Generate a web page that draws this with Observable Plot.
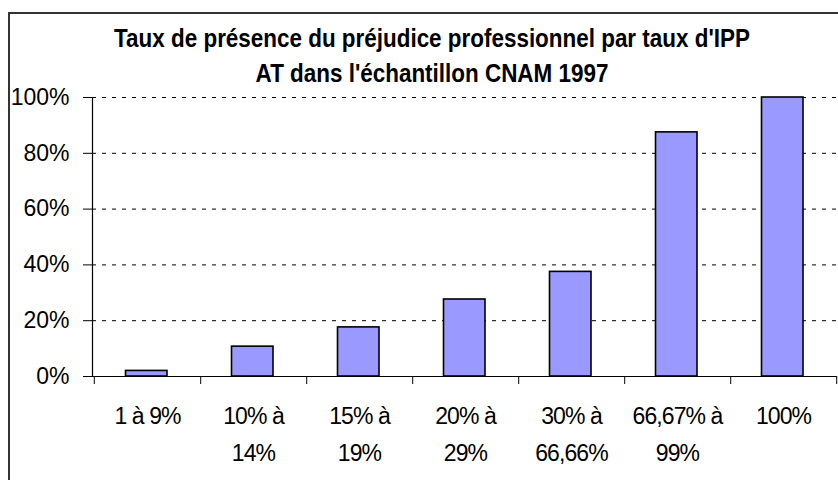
<!DOCTYPE html>
<html><head><meta charset="utf-8">
<script src="https://cdn.jsdelivr.net/npm/d3@7"></script>
<script src="https://cdn.jsdelivr.net/npm/@observablehq/plot@0.6"></script>
<style>
body{margin:0;background:#fff;overflow:hidden}
#wrap{position:relative;width:838px;height:480px;overflow:hidden;font-family:"Liberation Sans",Arial,sans-serif}
#frame{position:absolute;left:8px;top:12px;width:900px;height:600px;border:2px solid #333;box-sizing:border-box}
#title{position:absolute;left:0;width:864px;top:21px;text-align:center;font-weight:bold;font-size:26px;line-height:35px;color:#000;transform:scaleX(0.863);transform-origin:50% 50%;white-space:nowrap}
#chart{position:absolute;left:0;top:0}
.xlab text{letter-spacing:-0.9px}
</style></head>
<body><div id="wrap"><div id="frame"></div>
<div id="title">Taux de présence du préjudice professionnel par taux d'IPP<br>AT dans l'échantillon CNAM 1997</div>
<div id="chart"></div></div>
<script>
const categories = ["1 à 9%", "10% à\n14%", "15% à\n19%", "20% à\n29%", "30% à\n66,66%", "66,67% à\n99%", "100%"];
const values = [0.02, 0.107, 0.176, 0.276, 0.375, 0.875, 1.0];
const yTicks = [0, 0.2, 0.4, 0.6, 0.8, 1.0];

const data = categories.map((c, i) => ({cat: c, value: values[i]}));
const W = 838, H = 480, mL = 92, mR = 1;
const step = (W - mL - mR) / categories.length;
const font = "Liberation Sans, Arial, sans-serif";

const chart = Plot.plot({
  width: W, height: H,
  marginTop: 97, marginBottom: 104, marginLeft: mL, marginRight: mR,
  style: {fontFamily: font, color: "#000", background: "transparent", overflow: "visible"},
  x: {domain: categories, padding: 0, label: null, axis: null},
  y: {domain: [0, 1], label: null, axis: null},
  marks: [
    Plot.gridY(yTicks.slice(1), {stroke: "#000", strokeOpacity: 1, strokeWidth: 1, strokeDasharray: "4,6"}),
    Plot.barY(data, {x: "cat", y: "value", fill: "#9999FF", stroke: "#000", strokeWidth: 1.6, insetLeft: 31.5, insetRight: 33}),
    Plot.frame({anchor: "left", stroke: "#000", strokeWidth: 1.2}),
    Plot.ruleY([0], {stroke: "#000", strokeWidth: 1.2}),
    Plot.axisY(yTicks, {tickFormat: d3.format(".0%"), tickSize: 9, tickPadding: 14, fontSize: 23, stroke: "#000", label: null}),
    Plot.axisX(categories, {tickFormat: () => "", tickSize: 8, dx: step / 2, stroke: "#000", label: null}),
    Plot.axisX([categories[0]], {tickFormat: () => "", tickSize: 8, dx: -step / 2, stroke: "#000", label: null}),
    Plot.axisX(categories, {tickSize: 0, tickPadding: 22, fontSize: 23, lineHeight: 1.58, label: null, className: "xlab"})
  ]
});
document.getElementById("chart").appendChild(chart);
</script>
</body></html>
